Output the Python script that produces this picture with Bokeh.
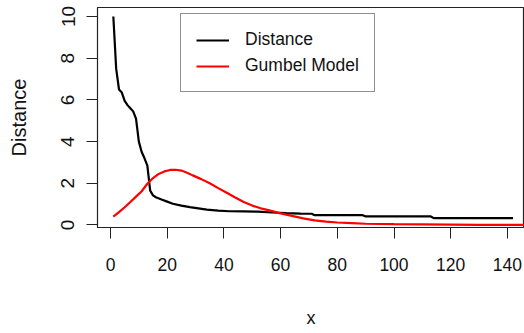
from bokeh.plotting import figure
from bokeh.models import Range1d, FixedTicker, Legend, LegendItem
from bokeh.embed import file_html
from bokeh.resources import INLINE

dist_x = [1, 2, 3, 4, 5, 6, 7, 8, 9, 10, 11, 12, 13, 14, 15, 16, 18, 20, 22, 25, 28,
          31, 34, 38, 42, 47, 52, 57, 62, 67, 71, 72, 89, 90, 113, 114, 142]
dist_y = [10.0, 7.5, 6.5, 6.35, 5.95, 5.75, 5.6, 5.45, 5.1, 4.0, 3.5, 3.2, 2.85, 1.65,
          1.42, 1.33, 1.22, 1.12, 1.02, 0.93, 0.86, 0.80, 0.74, 0.69, 0.66, 0.65, 0.64,
          0.60, 0.57, 0.55, 0.54, 0.47, 0.47, 0.41, 0.41, 0.33, 0.33]

# Gumbel model curve
gum_x = [1, 3, 5, 7, 9, 11, 13, 15, 17, 19, 21, 23, 25, 27, 29, 32, 35, 38, 41, 44, 47,
         50, 53, 56, 60, 64, 68, 72, 76, 80, 85, 90, 100, 110, 120, 130, 140, 148]
gum_y = [0.40, 0.62, 0.85, 1.10, 1.36, 1.62, 1.98, 2.25, 2.45, 2.57, 2.64, 2.65, 2.61,
         2.51, 2.38, 2.20, 2.00, 1.77, 1.55, 1.32, 1.10, 0.93, 0.80, 0.70, 0.56, 0.44,
         0.32, 0.22, 0.16, 0.12, 0.09, 0.06, 0.04, 0.03, 0.02, 0.01, 0.01, 0.00]

x_ticks = [0, 20, 40, 60, 80, 100, 120, 140]
y_ticks = [0, 2, 4, 6, 8, 10]
series_names = ["Distance", "Gumbel Model"]

FONT = "Liberation Sans"

p = figure(width=524, height=333, output_backend="svg", toolbar_location=None,
           x_range=Range1d(-4.585, 146.03), y_range=Range1d(-0.12, 10.432),
           min_border_left=97, min_border_right=0, min_border_top=7,
           min_border_bottom=106, background_fill_color="white",
           border_fill_color="white")

p.outline_line_color = "#222222"
p.outline_line_width = 1.2
p.xgrid.visible = False
p.ygrid.visible = False

r1 = p.line(dist_x, dist_y, line_color="black", line_width=2.2)
r2 = p.line(gum_x, gum_y, line_color="#FF0000", line_width=2.2)

for ax in (p.xaxis[0], p.yaxis[0]):
    ax.axis_line_color = None
    ax.major_tick_line_color = "#222222"
    ax.major_tick_line_width = 1
    ax.major_tick_in = 0
    ax.major_tick_out = 11
    ax.minor_tick_line_color = None
    ax.major_label_text_font = FONT
    ax.major_label_text_color = "#111111"
    ax.axis_label_text_font = FONT
    ax.axis_label_text_color = "#111111"
    ax.axis_label_text_font_style = "normal"

p.xaxis.ticker = FixedTicker(ticks=x_ticks)
p.yaxis.ticker = FixedTicker(ticks=y_ticks)

p.xaxis.major_label_text_font_size = "17.5px"
p.xaxis.major_label_standoff = 19
p.xaxis.axis_label = "x"
p.xaxis.axis_label_text_font_size = "18px"
p.xaxis.axis_label_standoff = 34

p.yaxis.major_label_orientation = "vertical"
p.yaxis.major_label_text_font_size = "19px"
p.yaxis.major_label_standoff = 12
p.yaxis.axis_label = "Distance"
p.yaxis.axis_label_text_font_size = "20px"
p.yaxis.axis_label_standoff = 29

legend = Legend(items=[LegendItem(label=series_names[0], renderers=[r1]),
                       LegendItem(label=series_names[1], renderers=[r2])],
                location=(83, 135))
legend.border_line_color = "#222222"
legend.border_line_width = 1.2
legend.background_fill_color = "white"
legend.background_fill_alpha = 1
legend.label_text_font = FONT
legend.label_text_font_size = "17.5px"
legend.label_text_color = "#111111"
legend.padding = 15
legend.spacing = 5
legend.label_height = 20
legend.glyph_height = 20
legend.glyph_width = 33
legend.label_standoff = 16
legend.margin = 0
p.add_layout(legend, "center")

open("out.html", "w").write(file_html(p, INLINE))
